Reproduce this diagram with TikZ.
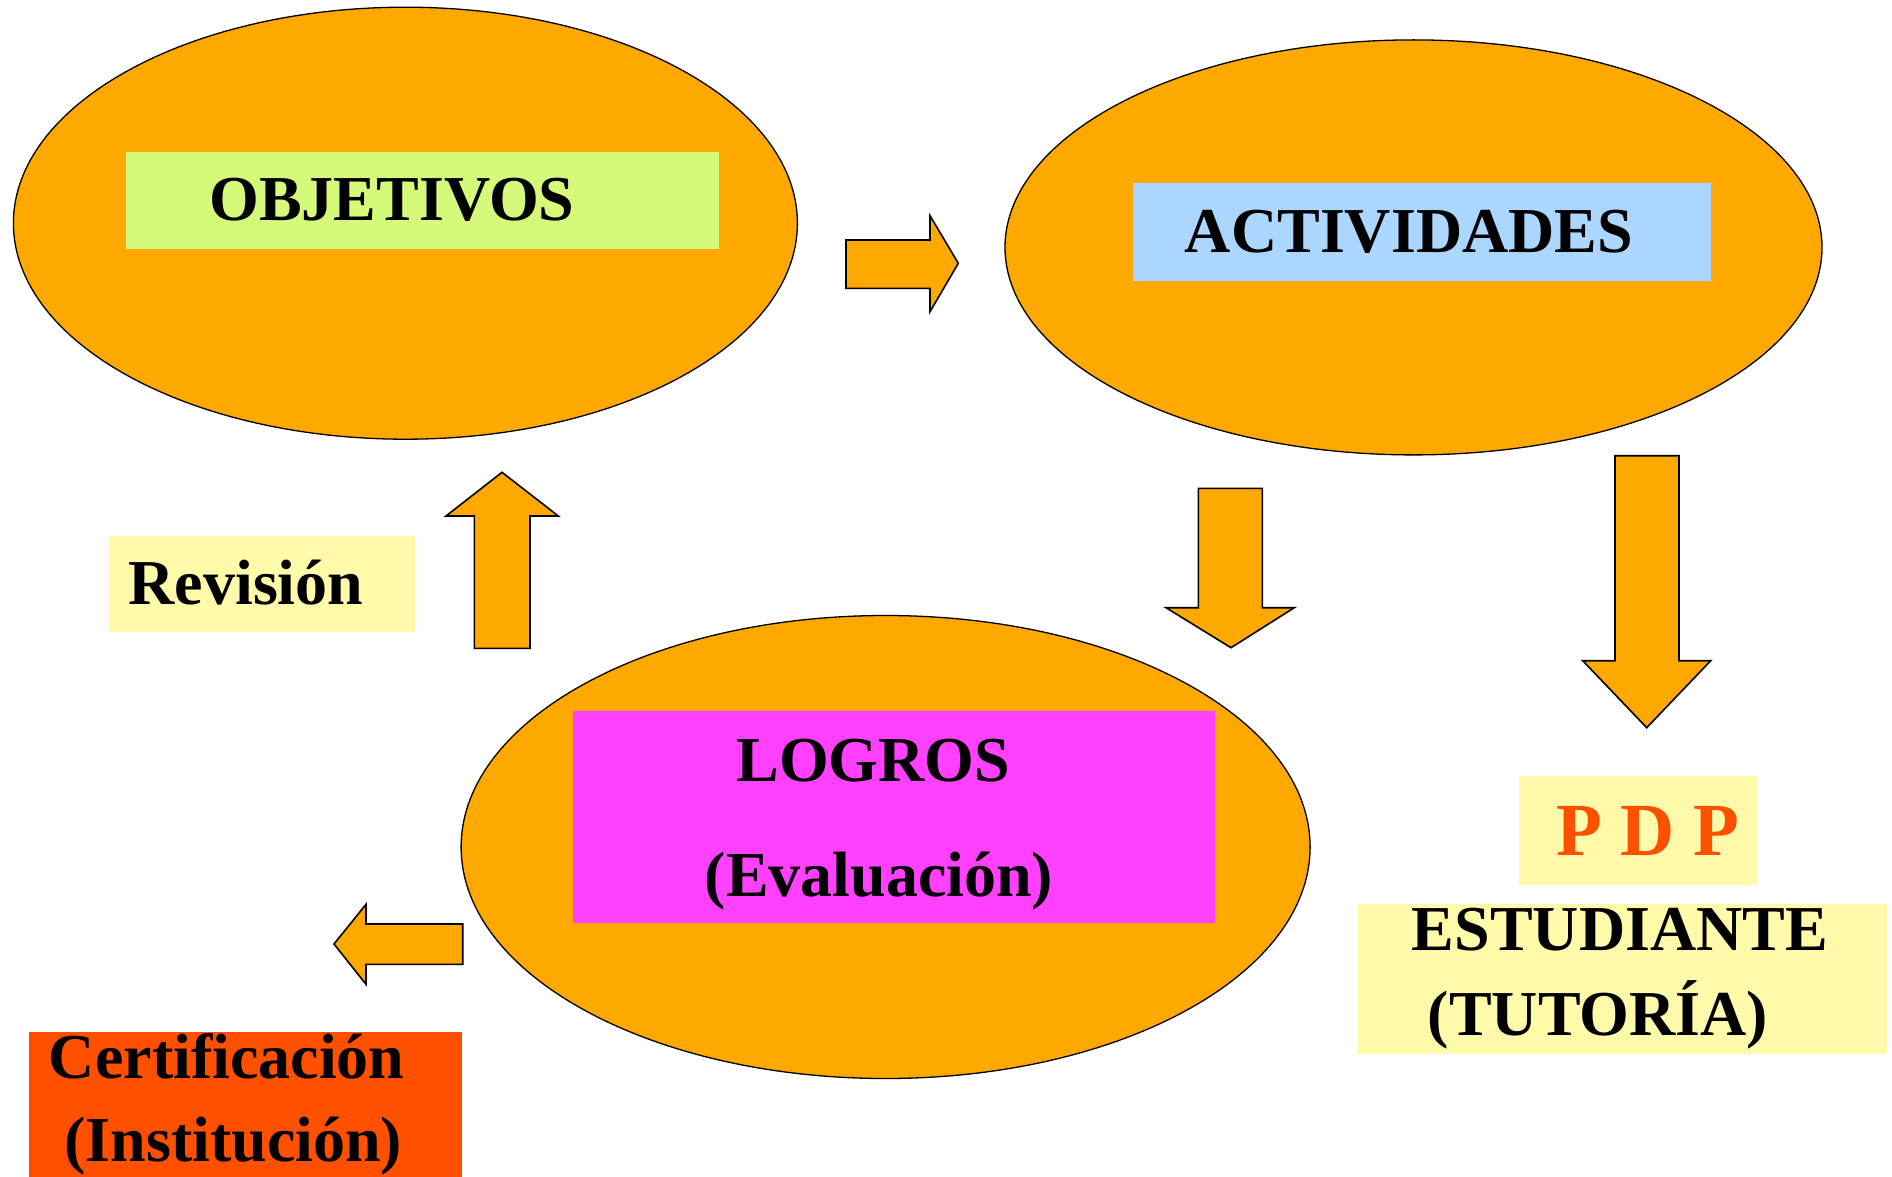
\documentclass[tikz,border=0pt]{standalone}
\usepackage{fontspec}
\setmainfont{Liberation Serif}
\usetikzlibrary{shapes.geometric}
\definecolor{orng}{RGB}{255,168,0}
\definecolor{lgreen}{RGB}{213,250,122}
\definecolor{lblue}{RGB}{170,214,255}
\definecolor{magn}{RGB}{255,64,255}
\definecolor{lyell}{RGB}{255,250,170}
\definecolor{ored}{RGB}{255,80,0}
\begin{document}
\begin{tikzpicture}[x=1pt,y=-1pt,
  oval/.style={draw=black,line width=1.3pt,fill=orng,ellipse,inner sep=0pt},
  bx/.style={draw=none,inner sep=0pt,anchor=north west},
  lbl/.style={anchor=base,inner sep=0pt,font=\bfseries\fontsize{64}{64}\selectfont},
  blk/.style={draw=black,line width=1.6pt,fill=orng,line join=miter}]
\path[use as bounding box,fill=white] (0,0) rectangle (1892,1177);

% ellipses
\node[oval,minimum width=784pt,minimum height=432pt] (e1) at (405.4,223.2) {};
\node[oval,minimum width=817pt,minimum height=415pt] (e2) at (1413.5,247.4) {};
\node[oval,minimum width=849pt,minimum height=463pt] (e3) at (885.6,847) {};

% coloured boxes
\node[bx,fill=lgreen,minimum width=593.5pt,minimum height=96.6pt] (objbox) at (125.5,152) {};
\node[bx,fill=lblue,minimum width=578pt,minimum height=97.4pt] (actbox) at (1133,183.3) {};
\node[bx,fill=magn,minimum width=642pt,minimum height=212pt] (logbox) at (573,711) {};
\node[bx,fill=lyell,minimum width=305.3pt,minimum height=95.7pt] (revbox) at (109,536) {};
\node[bx,fill=lyell,minimum width=239pt,minimum height=109.3pt] (pdpbox) at (1519,775.7) {};
\node[bx,fill=lyell,minimum width=529.5pt,minimum height=149.3pt] (estbox) at (1357.5,904) {};
\node[bx,fill=ored,minimum width=432.7pt,minimum height=145.3pt] (certbox) at (29,1031.7) {};

% texts
\node[lbl] (tobj) at (392,221) {OBJETIVOS};
\node[lbl] (tact) at (1409,252.7) {ACTIVIDADES};
\node[lbl] (tlog) at (873.3,781) {LOGROS};
\node[lbl] (teva) at (879,896) {(Evaluación)};
\node[lbl] (trev) at (246,604) {Revisión};
\node[lbl,text=ored,font=\bfseries\fontsize{75}{75}\selectfont] (tpdp) at (1648,855.7) {P D P};
\node[lbl] (test) at (1620,950) {ESTUDIANTE};
\node[lbl] (ttut) at (1598,1035) {(TUTORÍA)};
\node[lbl] (tcer) at (226.7,1078.3) {Certificación};
\node[lbl] (tins) at (233.3,1161.7) {(Institución)};

% block arrows
\draw[blk] (846,240) -- (930,240) -- (930,215.7) -- (958.3,263.3) -- (930,311.7) -- (930,288.3) -- (846,288.3) -- cycle;
\draw[blk] (474.3,648.3) -- (474.3,516) -- (446,516) -- (502,472.3) -- (558.3,516) -- (530,516) -- (530,648.3) -- cycle;
\draw[blk] (1198.3,488.3) -- (1262.3,488.3) -- (1262.3,607.7) -- (1294.3,607.7) -- (1231,647.7) -- (1166,607.7) -- (1198.3,607.7) -- cycle;
\draw[blk] (1615,455.7) -- (1679,455.7) -- (1679,660.7) -- (1710.7,660.7) -- (1646.7,727.7) -- (1582.7,660.7) -- (1615,660.7) -- cycle;
\draw[blk] (462.7,924) -- (366,924) -- (366,904.3) -- (334,944) -- (366,984.3) -- (366,964.3) -- (462.7,964.3) -- cycle;
\end{tikzpicture}
\end{document}
